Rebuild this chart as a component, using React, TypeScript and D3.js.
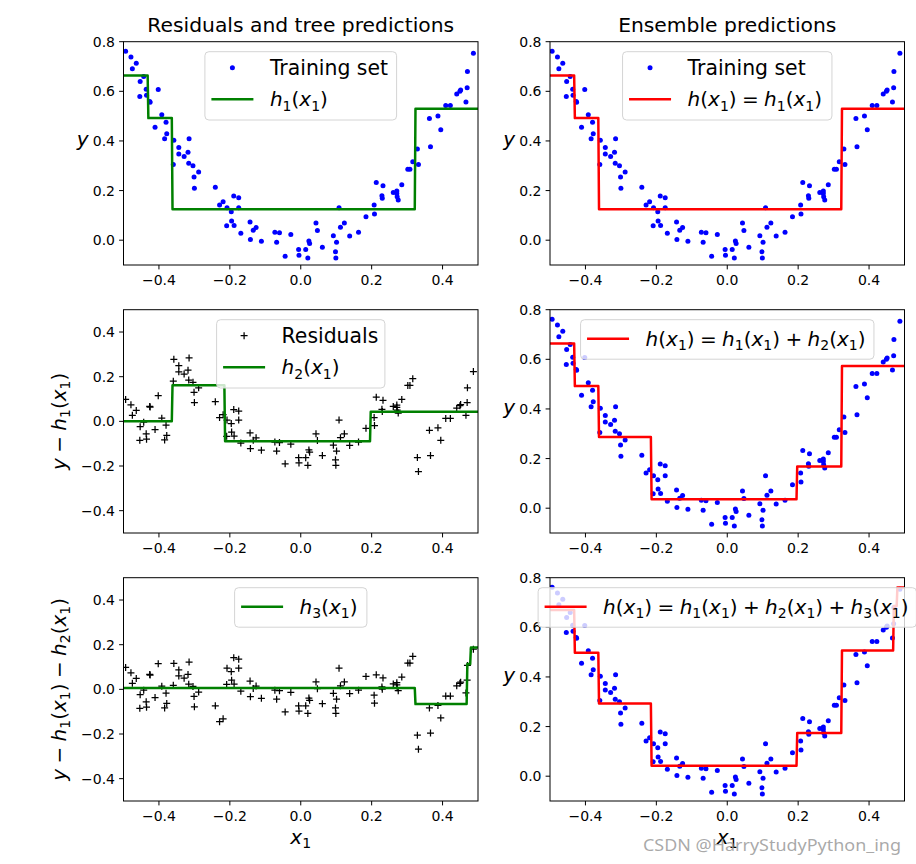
import React from 'react';
import * as d3 from 'd3';

// ---- data ----
const X = [
  -0.494, -0.479, -0.475, -0.464, -0.454, -0.453, -0.443, -0.436, -0.435, -0.426,
  -0.425, -0.411, -0.402, -0.392, -0.384, -0.380, -0.378, -0.3595, -0.358, -0.344,
  -0.344, -0.329, -0.318, -0.316, -0.315, -0.304, -0.301, -0.300, -0.288, -0.241,
  -0.229, -0.219, -0.209, -0.208, -0.196, -0.195, -0.189, -0.188, -0.175, -0.175,
  -0.169, -0.143, -0.142, -0.134, -0.126, -0.111, -0.073, -0.068, -0.060, -0.044,
  -0.028, -0.006, -0.005, 0.014, 0.020, 0.023, 0.025, 0.043, 0.047, 0.061,
  0.092, 0.098, 0.099, 0.101, 0.108, 0.112, 0.123, 0.138, 0.163, 0.184,
  0.207, 0.208, 0.213, 0.229, 0.230, 0.232, 0.261, 0.271, 0.271, 0.272,
  0.275, 0.285, 0.302, 0.308, 0.316, 0.329, 0.332, 0.363, 0.366, 0.387,
  0.395, 0.409, 0.422, 0.440, 0.449, 0.451, 0.466, 0.4694, 0.4702, 0.487,
];
const Y = [
  0.762, 0.738, 0.691, 0.713, 0.579, 0.640, 0.660, 0.608, 0.584, 0.559,
  0.556, 0.455, 0.607, 0.506, 0.409, 0.475, 0.429, 0.305, 0.403, 0.374,
  0.347, 0.337, 0.354, 0.310, 0.409, 0.300, 0.255, 0.209, 0.275, 0.213,
  0.142, 0.155, 0.058, 0.131, 0.115, 0.077, 0.178, 0.059, 0.171, 0.131,
  0.028, 0.073, 0.003, 0.040, 0.051, -0.004, 0.032, -0.008, 0.030, -0.065,
  0.023, -0.038, -0.061, -0.038, -0.072, -0.003, -0.013, 0.069, 0.039, -0.028,
  0.018, -0.047, -0.072, -0.008, 0.131, 0.052, 0.069, 0.017, 0.032, 0.094,
  0.142, 0.106, 0.233, 0.179, 0.169, 0.219, 0.192, 0.188, 0.198, 0.175,
  0.162, 0.223, 0.286, 0.286, 0.316, 0.368, 0.305, 0.490, 0.377, 0.501,
  0.445, 0.543, 0.543, 0.589, 0.600, 0.605, 0.557, 0.614, 0.680, 0.753,
];

// regression trees: split points and leaf values
const H1_SPLITS = [-0.431, -0.3625, 0.322];
const H1_VALUES = [0.664, 0.492, 0.125, 0.53];
const H2_SPLITS = [-0.3625, -0.214, 0.1955];
const H2_VALUES = [0.0, 0.162, -0.089, 0.043];
const H3_SPLITS = [0.322, 0.4698, 0.478];
const H3_VALUES = [0.006, -0.066, 0.113, 0.187];

const X_TICKS = [-0.4, -0.2, 0.0, 0.2, 0.4];
const Y_TICKS_ENS = [0.0, 0.2, 0.4, 0.6, 0.8];
const Y_TICKS_RES = [-0.4, -0.2, 0.0, 0.2, 0.4];

const TITLES = ['Residuals and tree predictions', 'Ensemble predictions'];
const LBL_TRAIN = 'Training set';
const LBL_RES = 'Residuals';
const LBL_H1 = 'h_1(x_1)';
const LBL_H2 = 'h_2(x_1)';
const LBL_H3 = 'h_3(x_1)';
const LBL_E1 = 'h(x_1) = h_1(x_1)';
const LBL_E2 = 'h(x_1) = h_1(x_1) + h_2(x_1)';
const LBL_E3 = 'h(x_1) = h_1(x_1) + h_2(x_1) + h_3(x_1)';
const YL_Y = 'y';
const YL_R1 = 'y − h_1(x_1)';
const YL_R2 = 'y − h_1(x_1) − h_2(x_1)';
const XL = 'x_1';
const WATERMARK = 'CSDN @HarryStudyPython_ing';

// ---- helpers ----
const tree = (splits: number[], values: number[]) => (x: number) =>
  values[d3.bisectRight(splits, x)];
const h1 = tree(H1_SPLITS, H1_VALUES);
const h2 = tree(H2_SPLITS, H2_VALUES);
const h3 = tree(H3_SPLITS, H3_VALUES);

const R1 = X.map((x, i) => Y[i] - h1(x));
const R2 = X.map((x, i) => R1[i] - h2(x));

const GRID = d3.range(500).map((i) => -0.5 + i / 499);

type Tok = { text: string; italic: boolean; sub: boolean };
function parseMath(src: string): Tok[] {
  const out: Tok[] = [];
  for (let i = 0; i < src.length; i++) {
    const c = src[i];
    let t: Tok;
    if (c === '_') {
      i++;
      t = { text: src[i], italic: false, sub: true };
    } else if (/[a-z]/.test(c)) t = { text: c, italic: true, sub: false };
    else t = { text: c, italic: false, sub: false };
    const last = out[out.length - 1];
    if (last && last.italic === t.italic && last.sub === t.sub) last.text += t.text;
    else out.push(t);
  }
  return out;
}

const FONT = "'DejaVu Sans', sans-serif";

function MathText(props: {
  x: number; y: number; src: string; size: number; anchor?: string; transform?: string;
}) {
  const { x, y, src, size, anchor = 'start', transform } = props;
  const toks = parseMath(src);
  let cur = 0;
  return (
    <text x={x} y={y} fontSize={size} textAnchor={anchor} transform={transform}
      fontFamily={FONT} fill="#000" wordSpacing={-1}>
      {toks.map((t, i) => {
        const target = t.sub ? size * 0.22 : 0;
        const dy = target - cur;
        cur = target;
        return (
          <tspan key={i} dy={dy} fontStyle={t.italic ? 'italic' : 'normal'}
            fontSize={t.sub ? size * 0.7 : size} style={{ whiteSpace: 'pre' }}>
            {t.text}
          </tspan>
        );
      })}
    </text>
  );
}

const COLS = [{ x0: 123.5, x1: 478 }, { x0: 550, x1: 904.5 }];
const ROWS = [{ y0: 41.7, y1: 265 }, { y0: 309.7, y1: 533 }, { y0: 577.7, y1: 801 }];

type LegendItem = { kind: 'dot' | 'plus' | 'line'; color: string; label: string; math: boolean };

type PanelDef = {
  row: number; col: number; yDomain: [number, number]; yTicks: number[];
  marks: 'dot' | 'plus' | null; markY: number[];
  curve: (x: number) => number; curveColor: string;
  legend: LegendItem[]; legendW: number;
  ylabel: string; ylabelRot: boolean; xlabel: boolean;
};

const fmt = (v: number) => d3.format('.1f')(v).replace('-', '−');
const TICK_FS = 14;
const PL = 3.5;

function Panel({ p }: { p: PanelDef }) {
  const c = COLS[p.col];
  const r = ROWS[p.row];
  const xs = d3.scaleLinear().domain([-0.5, 0.5]).range([c.x0, c.x1]);
  const ys = d3.scaleLinear().domain(p.yDomain).range([r.y1, r.y0]);
  const id = `clip${p.row}${p.col}`;
  const line = d3.line<number>().x((d) => xs(d)).y((d) => ys(p.curve(d)));
  const cx = (c.x0 + c.x1) / 2;
  const cy = (r.y0 + r.y1) / 2;
  const lw = p.legendW;
  const lx = cx - lw / 2;
  const ly = r.y0 + 10;
  const lh = p.legend.length === 2 ? 68.3 : 39.5;
  const rowY = p.legend.length === 2 ? [ly + 16, ly + 47.6] : [ly + 19];
  return (
    <g>
      <defs>
        <clipPath id={id}>
          <rect x={c.x0} y={r.y0} width={c.x1 - c.x0} height={r.y1 - r.y0} />
        </clipPath>
      </defs>
      <g clipPath={`url(#${id})`}>
        {p.marks === 'dot' && X.map((x, i) => (
          <circle key={i} cx={xs(x)} cy={ys(p.markY[i])} r={2.5} fill="#0000ff" />
        ))}
        {p.marks === 'plus' && X.map((x, i) => (
          <path key={i}
            d={`M${xs(x) - PL},${ys(p.markY[i])}h${2 * PL}M${xs(x)},${ys(p.markY[i]) - PL}v${2 * PL}`}
            stroke="#000" strokeWidth={1.25} fill="none" />
        ))}
        <path d={line(GRID) || ''} fill="none" stroke={p.curveColor} strokeWidth={2.5}
          strokeLinejoin="round" />
      </g>
      <rect x={c.x0} y={r.y0} width={c.x1 - c.x0} height={r.y1 - r.y0} fill="none"
        stroke="#000" strokeWidth={1} />
      {X_TICKS.map((t) => (
        <g key={t}>
          <line x1={xs(t)} x2={xs(t)} y1={r.y1} y2={r.y1 + 4.4} stroke="#000" strokeWidth={1} />
          <text x={xs(t)} y={r.y1 + 19.5} fontSize={TICK_FS} fontFamily={FONT} textAnchor="middle">
            {fmt(t)}
          </text>
        </g>
      ))}
      {p.yTicks.map((t) => (
        <g key={t}>
          <line x1={c.x0 - 4.4} x2={c.x0} y1={ys(t)} y2={ys(t)} stroke="#000" strokeWidth={1} />
          <text x={c.x0 - 8.5} y={ys(t) + 5} fontSize={TICK_FS} fontFamily={FONT} textAnchor="end">
            {fmt(t)}
          </text>
        </g>
      ))}
      {p.ylabelRot ? (
        <MathText x={0} y={0} src={p.ylabel} size={20} anchor="middle"
          transform={`translate(${c.x0 - 58},${cy}) rotate(-90)`} />
      ) : (
        <MathText x={c.x0 - 35} y={cy - 7.5} src={p.ylabel} size={20} anchor="end" />
      )}
      {p.xlabel && <MathText x={cx} y={844} src={XL} size={20} anchor="middle" />}
      <rect x={lx} y={ly} width={lw} height={lh} rx={4} ry={4} fill="#fff" fillOpacity={0.8}
        stroke="#d4d4d4" strokeWidth={1} />
      {p.legend.map((it, i) => {
        const hx = lx + 6.5;
        const yy = rowY[i];
        return (
          <g key={i}>
            {it.kind === 'line' && (
              <line x1={hx} x2={hx + 42} y1={yy} y2={yy} stroke={it.color} strokeWidth={2.5} />
            )}
            {it.kind === 'dot' && <circle cx={hx + 21} cy={yy} r={2.5} fill={it.color} />}
            {it.kind === 'plus' && (
              <path d={`M${hx + 21 - PL},${yy}h${2 * PL}M${hx + 21},${yy - PL}v${2 * PL}`}
                stroke={it.color} strokeWidth={1.25} />
            )}
            {it.math ? (
              <MathText x={hx + 58.5} y={yy + 7} src={it.label} size={20} />
            ) : (
              <text x={hx + 58.5} y={yy + 7} fontSize={20.4} fontFamily={FONT}>{it.label}</text>
            )}
          </g>
        );
      })}
    </g>
  );
}

const PANELS: PanelDef[] = [
  {
    row: 0, col: 0, yDomain: [-0.1, 0.8], yTicks: Y_TICKS_ENS, marks: 'dot', markY: Y,
    curve: h1, curveColor: '#008000',
    legend: [
      { kind: 'dot', color: '#0000ff', label: LBL_TRAIN, math: false },
      { kind: 'line', color: '#008000', label: LBL_H1, math: true },
    ],
    legendW: 191.7, ylabel: YL_Y, ylabelRot: false, xlabel: false,
  },
  {
    row: 0, col: 1, yDomain: [-0.1, 0.8], yTicks: Y_TICKS_ENS, marks: 'dot', markY: Y,
    curve: h1, curveColor: '#ff0000',
    legend: [
      { kind: 'dot', color: '#0000ff', label: LBL_TRAIN, math: false },
      { kind: 'line', color: '#ff0000', label: LBL_E1, math: true },
    ],
    legendW: 209.4, ylabel: YL_Y, ylabelRot: false, xlabel: false,
  },
  {
    row: 1, col: 0, yDomain: [-0.5, 0.5], yTicks: Y_TICKS_RES, marks: 'plus', markY: R1,
    curve: h2, curveColor: '#008000',
    legend: [
      { kind: 'plus', color: '#000', label: LBL_RES, math: false },
      { kind: 'line', color: '#008000', label: LBL_H2, math: true },
    ],
    legendW: 168.3, ylabel: YL_R1, ylabelRot: true, xlabel: false,
  },
  {
    row: 1, col: 1, yDomain: [-0.1, 0.8], yTicks: Y_TICKS_ENS, marks: 'dot', markY: Y,
    curve: (x) => h1(x) + h2(x), curveColor: '#ff0000',
    legend: [{ kind: 'line', color: '#ff0000', label: LBL_E2, math: true }],
    legendW: 293.4, ylabel: YL_Y, ylabelRot: false, xlabel: false,
  },
  {
    row: 2, col: 0, yDomain: [-0.5, 0.5], yTicks: Y_TICKS_RES, marks: 'plus', markY: R2,
    curve: h3, curveColor: '#008000',
    legend: [{ kind: 'line', color: '#008000', label: LBL_H3, math: true }],
    legendW: 132.3, ylabel: YL_R2, ylabelRot: true, xlabel: true,
  },
  {
    row: 2, col: 1, yDomain: [-0.1, 0.8], yTicks: Y_TICKS_ENS, marks: 'dot', markY: Y,
    curve: (x) => h1(x) + h2(x) + h3(x), curveColor: '#ff0000',
    legend: [{ kind: 'line', color: '#ff0000', label: LBL_E3, math: true }],
    legendW: 378.3, ylabel: YL_Y, ylabelRot: false, xlabel: true,
  },
];

export default function App() {
  return (
    <svg width={916} height={864} style={{ position: 'absolute', left: 0, top: 0, background: '#fff' }}>
      <rect width={916} height={864} fill="#fff" />
      {TITLES.map((t, i) => (
        <text key={t} x={(COLS[i].x0 + COLS[i].x1) / 2} y={32} fontSize={20.3} fontFamily={FONT}
          textAnchor="middle">{t}</text>
      ))}
      {PANELS.map((p, i) => <Panel key={i} p={p} />)}
      <text x={643} y={851} fontSize={17} fontFamily="'Noto Sans', sans-serif" fill="#9a9a9a"
        fillOpacity={0.85} textLength={258} lengthAdjust="spacingAndGlyphs">{WATERMARK}</text>
    </svg>
  );
}
